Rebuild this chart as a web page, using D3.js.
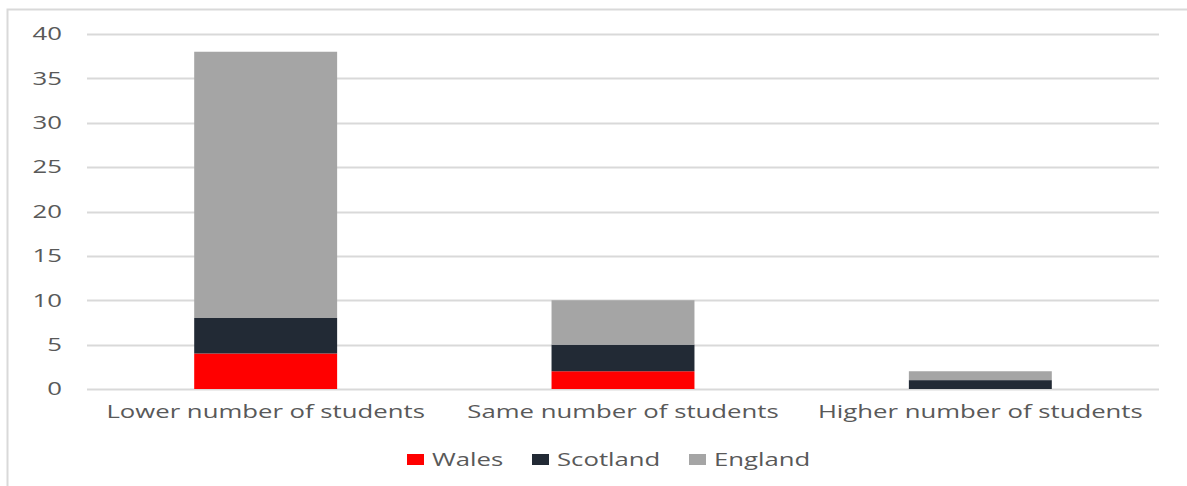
<!DOCTYPE html>
<html>
<head>
<meta charset="utf-8">
<script src="https://cdn.jsdelivr.net/npm/d3@7"></script>
<style>
  body { margin: 0; background: #fff; }
  text { font-family: "Open Sans", sans-serif; fill: #595959; }
</style>
</head>
<body>
<svg id="chart"></svg>
<script>
const categories = ['Lower number of students', 'Same number of students', 'Higher number of students'];
const seriesNames = ['Wales', 'Scotland', 'England'];
const wales = [4, 2, 0];
const scotland = [4, 3, 1];
const england = [30, 5, 1];
const yTicks = [0, 5, 10, 15, 20, 25, 30, 35, 40];

const colors = { Wales: '#ff0000', Scotland: '#222a35', England: '#a5a5a5' };

const width = 1187, height = 486;
const margin = { top: 34, right: 28, bottom: 97, left: 87 };
const stretch = 1.43; // the reference text is drawn wide

const svg = d3.select('#chart').attr('width', width).attr('height', height);

// chart frame
svg.append('rect')
  .attr('x', 7.5).attr('y', 9.5)
  .attr('width', width + 10).attr('height', height + 10)
  .attr('fill', 'none').attr('stroke', '#d9d9d9').attr('stroke-width', 2);

const rows = categories.map((c, i) => ({ cat: c, Wales: wales[i], Scotland: scotland[i], England: england[i] }));
const stacked = d3.stack().keys(seriesNames)(rows);

const x = d3.scaleBand()
  .domain(categories)
  .range([margin.left, width - margin.right])
  .paddingInner(0.6)
  .paddingOuter(0.3);

const y = d3.scaleLinear()
  .domain([0, 40])
  .range([height - margin.bottom, margin.top]);

// gridlines
svg.append('g')
  .selectAll('line')
  .data(yTicks)
  .enter()
  .append('line')
  .attr('x1', margin.left)
  .attr('x2', width - margin.right)
  .attr('y1', d => Math.round(y(d)) + 0.5)
  .attr('y2', d => Math.round(y(d)) + 0.5)
  .attr('stroke', '#d9d9d9')
  .attr('stroke-width', 2);

// bars
svg.append('g')
  .selectAll('g')
  .data(stacked)
  .enter()
  .append('g')
  .attr('fill', d => colors[d.key])
  .selectAll('rect')
  .data(d => d)
  .enter()
  .append('rect')
  .attr('x', d => x(d.data.cat))
  .attr('y', d => y(d[1]))
  .attr('width', x.bandwidth())
  .attr('height', d => y(d[0]) - y(d[1]));

// y axis labels
const yAxis = svg.append('g')
  .attr('transform', `translate(${margin.left - 25},0)`)
  .call(d3.axisLeft(y).tickValues(yTicks).tickSize(0).tickPadding(0));
yAxis.select('.domain').remove();
yAxis.selectAll('text')
  .attr('transform', `scale(${stretch},1)`)
  .style('font-family', '"Open Sans", sans-serif')
  .style('font-size', '18px')
  .style('fill', '#595959');

// x axis labels
const xAxis = svg.append('g')
  .attr('transform', `translate(0,${height - margin.bottom})`)
  .call(d3.axisBottom(x).tickSize(0).tickPadding(16));
xAxis.select('.domain').remove();
xAxis.selectAll('text')
  .attr('transform', `scale(${stretch},1)`)
  .style('font-family', '"Open Sans", sans-serif')
  .style('font-size', '18px')
  .style('fill', '#595959');

// legend
const legendX = [407, 532, 689];
const legend = svg.append('g');
seriesNames.forEach((name, i) => {
  legend.append('rect')
    .attr('x', legendX[i]).attr('y', 454)
    .attr('width', 17).attr('height', 11)
    .attr('fill', colors[name]);
  legend.append('text')
    .attr('transform', `translate(${legendX[i] + 25},466) scale(${stretch},1)`)
    .style('font-size', '18px')
    .text(name);
});
</script>
</body>
</html>
